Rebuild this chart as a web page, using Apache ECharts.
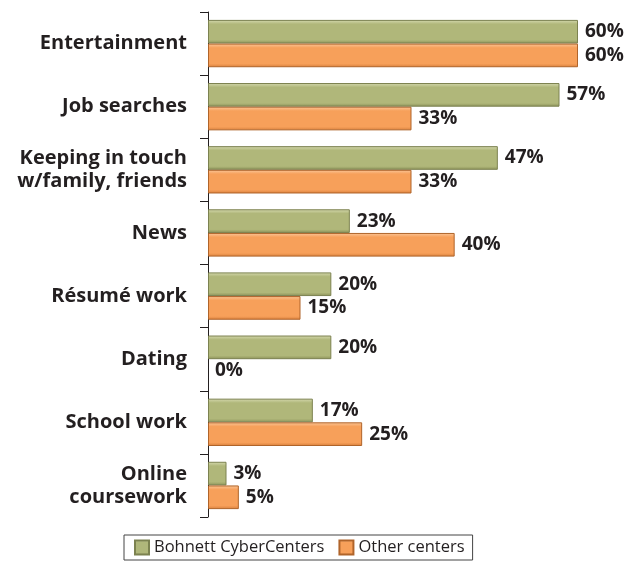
<!DOCTYPE html>
<html><head><meta charset="utf-8">
<script src="https://cdn.jsdelivr.net/npm/echarts@6/dist/echarts.min.js"></script>
<style>html,body{margin:0;padding:0;background:#fff}#c{width:631px;height:564px}</style>
</head><body><div id="c"></div>
<script>
const categories = ["Entertainment","Job searches","Keeping in touch\nw/family, friends","News","Résumé work","Dating","School work","Online\ncoursework"];
const bohnett = [60,57,47,23,20,20,17,3];
const others = [60,33,33,40,15,0,25,5];
const seriesNames = ["Bohnett CyberCenters","Other centers"];

const font = "'Open Sans', sans-serif";
function grad(top, mid, bot){
  return {type:'linear',x:0,y:0,x2:0,y2:1,colorStops:[
    {offset:0,color:top},{offset:0.18,color:mid},{offset:0.85,color:mid},{offset:1,color:bot}]};
}
function toData(arr){
  return arr.map(v => v === 0 ? {value:v, itemStyle:{borderWidth:0}} : v);
}
const chart = echarts.init(document.getElementById('c'));
const lbl = {show:true,position:'right',distance:7,formatter:'{c}%',fontFamily:font,fontWeight:'bold',fontSize:19,color:'#231f20'};
chart.setOption({
  animation:false,
  grid:{left:208,right:53,top:12,bottom:47,containLabel:false},
  xAxis:{type:'value',min:0,max:60,show:false},
  yAxis:{type:'category',data:categories,inverse:true,
    axisLine:{show:true,lineStyle:{color:'#231f20',width:1}},
    axisTick:{show:true,length:8,lineStyle:{color:'#231f20'}},
    axisLabel:{fontFamily:font,fontWeight:'bold',fontSize:20,color:'#231f20',margin:21,lineHeight:23,align:'right'}},
  legend:{bottom:4,left:124,data:seriesNames,icon:'rect',itemWidth:14,itemHeight:14,itemGap:14,
    borderColor:'#444',borderWidth:1,padding:[4,8,4,10],
    textStyle:{fontFamily:font,fontSize:16.5,color:'#231f20'}},
  series:[
    {name:seriesNames[0],type:'bar',data:toData(bohnett),barGap:'0%',barCategoryGap:'25%',
     itemStyle:{color:grad('#d6dab0','#b0b77a','#8b9158'),borderColor:'#7c8250',borderWidth:1},label:lbl},
    {name:seriesNames[1],type:'bar',data:toData(others),
     itemStyle:{color:grad('#fbc79a','#f7a05a','#d9803c'),borderColor:'#b0642a',borderWidth:1},label:lbl}
  ]
});
</script></body></html>
